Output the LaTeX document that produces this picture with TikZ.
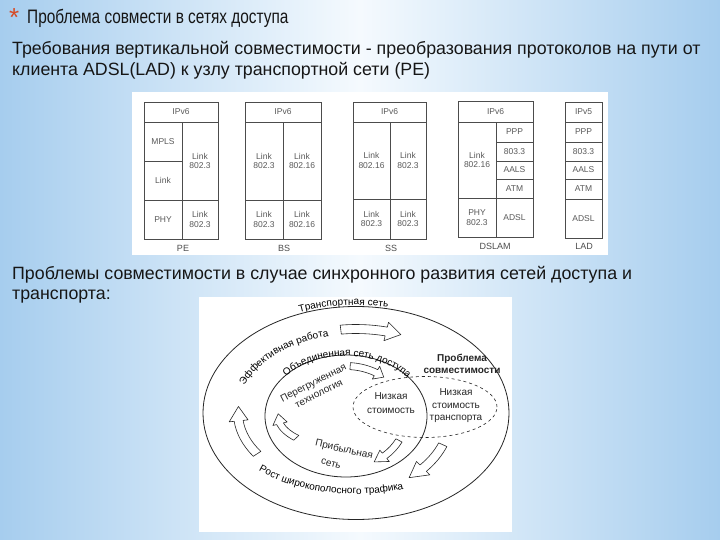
\documentclass[tikz,border=0pt]{standalone}
\usepackage{fontspec}
\setmainfont{Liberation Sans}
\newfontfamily\titlefont[FakeStretch=0.79]{Liberation Sans}
\usetikzlibrary{positioning, calc, decorations.text}

\definecolor{slideedge}{RGB}{166,205,238}
\definecolor{slidemid}{RGB}{245,250,254}
\definecolor{slidetext}{RGB}{22,22,22}
\definecolor{starred}{RGB}{214,74,38}

% one cell of a protocol stack: name, x1, y1, x2, y2, text
\newcommand{\stackcell}[6]{%
  \node[cell, minimum width={(#4-#2)*1pt}, minimum height={(#5-#3)*1pt}]
       (#1) at ({(#2+#4)/2},{(#3+#5)/2}) {#6};}

% curved block arrow along an ellipse: centre, rx, ry, tail, neck, tip, half width
\newcommand{\flowarrow}[7]{%
  \pgfmathsetmacro\fxo{#2+#7}\pgfmathsetmacro\fyo{#3+#7}%
  \pgfmathsetmacro\fxi{#2-#7}\pgfmathsetmacro\fyi{#3-#7}%
  \pgfmathsetmacro\fxh{#2+2.1*#7}\pgfmathsetmacro\fyh{#3+2.1*#7}%
  \pgfmathsetmacro\fxl{#2-2.1*#7}\pgfmathsetmacro\fyl{#3-2.1*#7}%
  \draw[flow] ($(#1)+(#4:\fxo pt and \fyo pt)$)
    arc[start angle=#4, end angle=#5, x radius=\fxo pt, y radius=\fyo pt]
    -- ($(#1)+(#5:\fxh pt and \fyh pt)$)
    -- ($(#1)+(#6:#2pt and #3pt)$)
    -- ($(#1)+(#5:\fxl pt and \fyl pt)$)
    -- ($(#1)+(#5:\fxi pt and \fyi pt)$)
    arc[start angle=#5, end angle=#4, x radius=\fxi pt, y radius=\fyi pt]
    -- cycle;}

\newcommand{\curvefont}{\fontsize{10}{11}\selectfont}

\begin{document}
\begin{tikzpicture}[x=1pt, y=-1pt,
    body/.style={anchor=base west, inner sep=0pt,
                 font=\fontsize{17.8}{21}\selectfont, text=slidetext},
    cell/.style={draw=black!70, line width=0.7pt, inner sep=0pt, align=center,
                 font=\fontsize{8.5}{9.5}\selectfont, text=black!65},
    stackname/.style={font=\fontsize{9}{10}\selectfont, text=black!70, inner sep=0pt},
    ring/.style={line width=0.8pt, black!85},
    flow/.style={draw=black!85, fill=white, line width=0.6pt, line join=round},
    inlabel/.style={font=\fontsize{10}{12}\selectfont, text=black!85,
                    align=center, inner sep=0pt},
]

% Slide background
\useasboundingbox (0,0) rectangle (720,540);
\shade[left color=slideedge, right color=slideedge, middle color=slidemid]
  (0,0) rectangle (720,540);

% Heading and text
\node[anchor=base west, inner sep=0pt, font=\fontsize{26}{26}\selectfont,
      text=starred] (star) at (9,27) {*};
\node[anchor=base west, inner sep=0pt, text=slidetext,
      font=\titlefont\fontsize{19.5}{22}\selectfont] (title) at (27,24)
     {Проблема совмести в сетях доступа};
\node[body] (req1) at (12,55)
     {Требования вертикальной совместимости - преобразования протоколов на пути от};
\node[body, below=21pt of req1.base west, anchor=base west] (req2)
     {клиента ADSL(LAD) к узлу транспортной сети (PE)};

% Protocol stacks
\fill[white] (132,92) rectangle (608,255);
\foreach \n/\xa/\ya/\xb/\yb/\t in {pe0/144/102/218/122/IPv6,
    pe1/144/122/182/161/MPLS, pe2/144/161/182/200/Link, pe3/144/200/182/239/PHY,
    pe4/182/122/218/200/{Link\\802.3}, pe5/182/200/218/239/{Link\\802.3}} {
  \stackcell{\n}{\xa}{\ya}{\xb}{\yb}{\t}
}
\foreach \n/\xa/\ya/\xb/\yb/\t in {bs0/245/102/321/122/IPv6,
    bs1/245/122/283/200/{Link\\802.3}, bs2/283/122/321/200/{Link\\802.16},
    bs3/245/200/283/239/{Link\\802.3}, bs4/283/200/321/239/{Link\\802.16}} {
  \stackcell{\n}{\xa}{\ya}{\xb}{\yb}{\t}
}
\foreach \n/\xa/\ya/\xb/\yb/\t in {ss0/353/102/426/122/IPv6,
    ss1/353/122/390/199/{Link\\802.16}, ss2/390/122/426/199/{Link\\802.3},
    ss3/353/199/390/239/{Link\\802.3}, ss4/390/199/426/239/{Link\\802.3}} {
  \stackcell{\n}{\xa}{\ya}{\xb}{\yb}{\t}
}
\foreach \n/\xa/\ya/\xb/\yb/\t in {ds0/458/101/533/122/IPv6,
    ds1/458/122/496/198/{Link\\802.16}, ds2/458/198/496/237/{PHY\\802.3},
    ds3/496/122/533/142/PPP, ds4/496/142/533/161/803.3, ds5/496/161/533/179/AALS,
    ds6/496/179/533/198/ATM, ds7/496/198/533/237/ADSL} {
  \stackcell{\n}{\xa}{\ya}{\xb}{\yb}{\t}
}
\foreach \n/\xa/\ya/\xb/\yb/\t in {ld0/565/102/602/122/IPv5,
    ld1/565/122/602/142/PPP, ld2/565/142/602/161/803.3, ld3/565/161/602/179/AALS,
    ld4/565/179/602/199/ATM, ld5/565/199/602/238/ADSL} {
  \stackcell{\n}{\xa}{\ya}{\xb}{\yb}{\t}
}
\node[stackname] (pename) at (183,248) {PE};
\node[stackname] (bsname) at (284,248) {BS};
\node[stackname] (ssname) at (391,248) {SS};
\node[stackname] (dsname) at (495,246) {DSLAM};
\node[stackname] (ldname) at (584,246) {LAD};

% Second part
\node[body] (prob1) at (12,279)
     {Проблемы совместимости в случае синхронного развития сетей доступа и};
\node[body, below=20pt of prob1.base west, anchor=base west] (prob2) {транспорта:};

% Nested networks
\fill[white] (199,297) rectangle (512,532);
\coordinate (tc) at (356,413);
\coordinate (ac) at (346,416);
\coordinate (lc) at (425,407);
\draw[ring] (tc) ellipse[x radius=153pt, y radius=106.5pt];
\draw[ring] (ac) ellipse[x radius=81pt, y radius=61pt];
\draw[ring, dashed, line width=0.6pt] (lc) ellipse[x radius=72pt, y radius=30.5pt];

% Clockwise development arrows
\flowarrow{tc}{125}{84}{97}{76}{69}{4.5}
\flowarrow{tc}{118}{75}{213}{186}{175}{4.5}
\flowarrow{tc}{95}{78}{-24}{-45}{-56}{4.5}
\flowarrow{ac}{60}{50}{86}{60}{51}{3.5}
\flowarrow{ac}{68}{32}{223}{194}{176}{3.5}
\flowarrow{ac}{60}{52}{-28}{-50}{-62}{3.5}

% Labels along the rings
\path[decorate, decoration={text along path, text align=center, raise=1.5pt,
      text={|\curvefont|Транспортная сеть}}]
  ($(tc)+(125:153pt and 106.5pt)$) arc[start angle=125, end angle=65,
  x radius=153pt, y radius=106.5pt];
\path[decorate, decoration={text along path, text align=center,
      text={|\curvefont|Эффективная работа}}]
  ($(tc)+(170:119pt and 79pt)$) arc[start angle=170, end angle=96,
  x radius=119pt, y radius=79pt];
\path[decorate, decoration={text along path, text align=center, raise=-1pt,
      text={|\curvefont|Объединенная сеть доступа}}]
  ($(ac)+(152:81pt and 61pt)$) arc[start angle=152, end angle=26,
  x radius=81pt, y radius=61pt];
\path[decorate, decoration={text along path, text align=center,
      text={|\curvefont|Рост широкополосного трафика}}]
  ($(tc)+(217:138pt and 81pt)$) arc[start angle=217, end angle=297,
  x radius=138pt, y radius=81pt];

\node[inlabel, rotate=27] (overload) at (316,388) {Перегруженная\\технология};
\node[inlabel, rotate=-13] (profit) at (344,450) {Прибыльная};
\node[inlabel, rotate=-15] (profitnet) at (331,464) {сеть};
\node[inlabel, font=\bfseries\fontsize{10}{12}\selectfont] (compat) at (462,364)
     {Проблема\\совместимости};
\node[inlabel, font=\fontsize{10}{13.5}\selectfont] (lowacc) at (391,403)
     {Низкая\\стоимость};
\node[inlabel, font=\fontsize{10}{12.5}\selectfont] (lowtr) at (456,406)
     {Низкая\\стоимость\\транспорта};

\end{tikzpicture}
\end{document}
